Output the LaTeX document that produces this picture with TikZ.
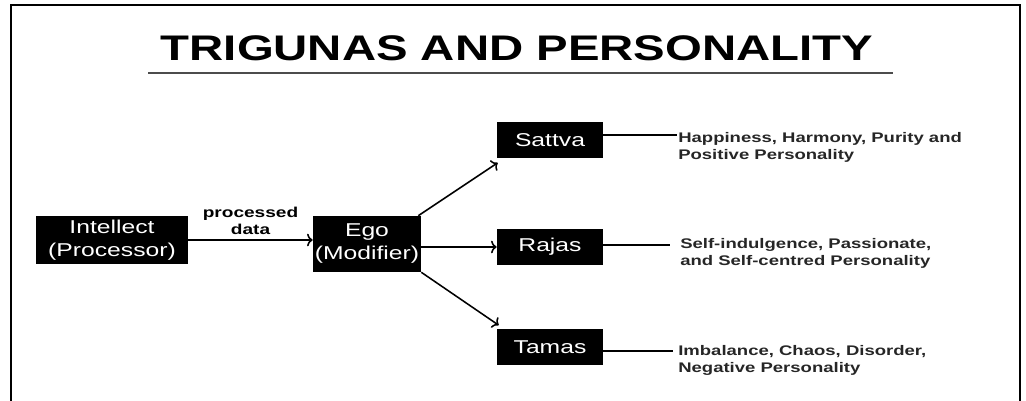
\documentclass[tikz,border=0pt]{standalone}
\usepackage{fontspec}
\setmainfont{Liberation Sans}[FakeStretch=1.33]
\usepackage{tikz}
\usetikzlibrary{arrows}
\usetikzlibrary{arrows.meta}
\usetikzlibrary{calc}
\usetikzlibrary{positioning}

\tikzset{
  box/.style={fill=black, text=white, inner sep=0pt, align=center,
    font=\fontsize{13.2}{16.4}\selectfont},
  guna/.style={box, minimum width=2.65cm, minimum height=0.875cm},
  trait/.style={anchor=north west, align=left, inner sep=0pt, text=black!85,
    font=\fontsize{9.9}{12.1}\selectfont\bfseries},
  link/.style={line width=1.1pt, ->, >={To[length=4pt, width=9pt]}},
}

\begin{document}
\begin{tikzpicture}[x=0.025cm, y=-0.025cm]

  \useasboundingbox (0,0) rectangle (1026,401);

  % Frame, open at the bottom
  \draw[line width=1.6pt] (11,401) -- (11,5) -- (1020,5) -- (1020,401);

  % Title and the rule under it
  \node[inner sep=0pt, font=\fontsize{25.3}{30}\selectfont\bfseries] (title) at (517,48) {TRIGUNAS AND PERSONALITY};
  \draw[line width=1pt, black!70] (148,73) -- (893,73);

  % Intellect hands its data to the ego
  \node[box, minimum width=3.8cm, minimum height=1.2cm] (intellect) at (112,240) {Intellect\\(Processor)};
  \node[box, minimum width=2.7cm, minimum height=1.4cm] (ego) at (367,244) {Ego\\(Modifier)};

  \draw[link] (intellect.east) -- (intellect.east -| ego.west)
    node[midway, above, align=center, inner sep=3pt, font=\fontsize{10.2}{12}\selectfont\bfseries] (data) {processed\\data};

  % The three gunas
  \node[guna] (sattva) at (550,140) {Sattva};
  \node[guna] (rajas) at (550,247) {Rajas};
  \node[guna] (tamas) at (550,347) {Tamas};

  \draw[link] ([shift={(-3,0)}]ego.north east) -- ([shift={(1,5)}]sattva.south west);
  \draw[link] (ego.east |- rajas.west) -- (rajas.west);
  \draw[link] (ego.south east) -- ([shift={(2,-4)}]tamas.north west);

  % What each guna gives
  \coordinate (sattvatip) at (677,135);
  \coordinate (rajastip) at (670,245);
  \coordinate (tamastip) at (673,351);

  \draw[line width=1.1pt] (sattva.east |- sattvatip) -- (sattvatip);
  \draw[line width=1.1pt] (rajas.east |- rajastip) -- (rajastip);
  \draw[line width=1.1pt] (tamas.east |- tamastip) -- (tamastip);

  \node[trait] (sattvatext) at ([shift={(1,-3)}]sattvatip) {Happiness, Harmony, Purity and\\Positive Personality};
  \node[trait] (rajastext) at ([shift={(10,-7)}]rajastip) {Self-indulgence, Passionate,\\and Self-centred Personality};
  \node[trait] (tamastext) at ([shift={(5,-6)}]tamastip) {Imbalance, Chaos, Disorder,\\Negative Personality};

\end{tikzpicture}
\end{document}
